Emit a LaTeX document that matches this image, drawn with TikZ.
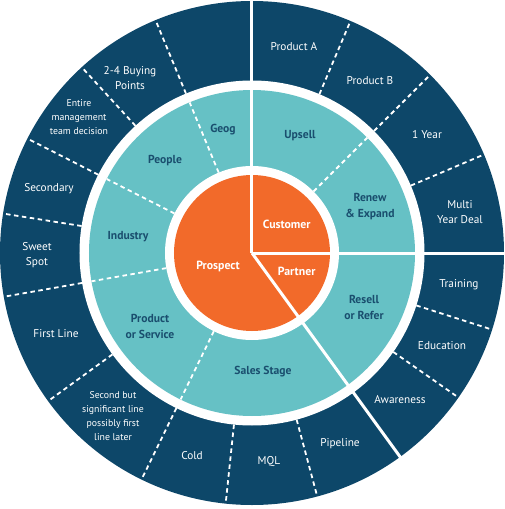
\documentclass[tikz,border=0pt]{standalone}
\usepackage{fontspec}
\setmainfont{PT Sans}
\definecolor{navy}{HTML}{0D4769}
\definecolor{tealc}{HTML}{66C1C5}
\definecolor{orng}{HTML}{F26A2A}
\definecolor{tealtext}{HTML}{1A4E6E}
\begin{document}
\begin{tikzpicture}[x=1pt,y=1pt,
  outerlbl/.style={text=white,align=center,font=\fontsize{11.3}{15.5}\selectfont},
  smalllbl/.style={text=white,align=center,font=\fontsize{9.8}{13.8}\selectfont},
  teallbl/.style={text=tealtext,align=center,font=\bfseries\fontsize{11.6}{16}\selectfont},
  orangelbl/.style={text=white,align=center,font=\bfseries\fontsize{11.8}{16}\selectfont},
  solidsep/.style={white,line width=3pt},
  dashsep/.style={white,line width=1.8pt,dash pattern=on 4.5pt off 3.5pt}]
\useasboundingbox (-252,-256) rectangle (252,253);
\coordinate (c) at (0,0);
% rings
\fill[navy] (c) circle (252);
\fill[white] (c) circle (172.5);
\fill[tealc] (c) circle (163);
\fill[white] (c) circle (87);
\fill[orng] (c) circle (78);
% solid separators
\foreach \a in {90,0,-54} \draw[solidsep] (c) -- (\a:253);
% dashed separators, teal ring
\foreach \a in {45,112.5,153,190,244} \draw[dashsep] (\a:87) -- (\a:163);
% dashed separators, outer ring
\foreach \a in {23,45,67,112.5,132.5,153,171,190,216,244,264,285,-17.7,-35}
  \draw[dashsep] (\a:172.5) -- (\a:252);
% orange labels
\node[orangelbl] (customer) at (34.7,29) {Customer};
\node[orangelbl] (partner) at (44.7,-18.7) {Partner};
\node[orangelbl] (prospect) at (-34,-13) {Prospect};
% teal labels
\node[teallbl] (geog) at (-29,123) {Geog};
\node[teallbl] (people) at (-87,92) {People};
\node[teallbl] (industry) at (-124,16) {Industry};
\node[teallbl] (product) at (-102,-73) {Product\\or Service};
\node[teallbl] (sales) at (11,-119) {Sales Stage};
\node[teallbl] (resell) at (112,-54) {Resell\\or Refer};
\node[teallbl] (renew) at (118,46) {Renew\\\& Expand};
\node[teallbl] (upsell) at (48,117) {Upsell};
% outer labels
\node[outerlbl] (proda) at (42,206) {Product A};
\node[outerlbl] (prodb) at (118,172) {Product B};
\node[outerlbl] (oneyear) at (175,118) {1 Year};
\node[outerlbl] (multi) at (208,41) {Multi\\Year Deal};
\node[outerlbl] (training) at (207,-32) {Training};
\node[outerlbl] (education) at (190,-93) {Education};
\node[outerlbl] (awareness) at (148,-147) {Awareness};
\node[outerlbl] (pipeline) at (88,-191) {Pipeline};
\node[outerlbl] (mql) at (17,-209) {MQL};
\node[outerlbl] (cold) at (-60,-203) {Cold};
\node[smalllbl] (second) at (-139,-163) {Second but\\significant line\\possibly first\\line later};
\node[outerlbl] (firstline) at (-196,-81) {First Line};
\node[outerlbl] (sweet) at (-215,-2) {Sweet\\Spot};
\node[outerlbl] (secondary) at (-203,64) {Secondary};
\node[smalllbl] (entire) at (-173,136) {Entire\\management\\team decision};
\node[outerlbl] (buying) at (-122,175) {2-4 Buying\\Points};
\end{tikzpicture}
\end{document}
